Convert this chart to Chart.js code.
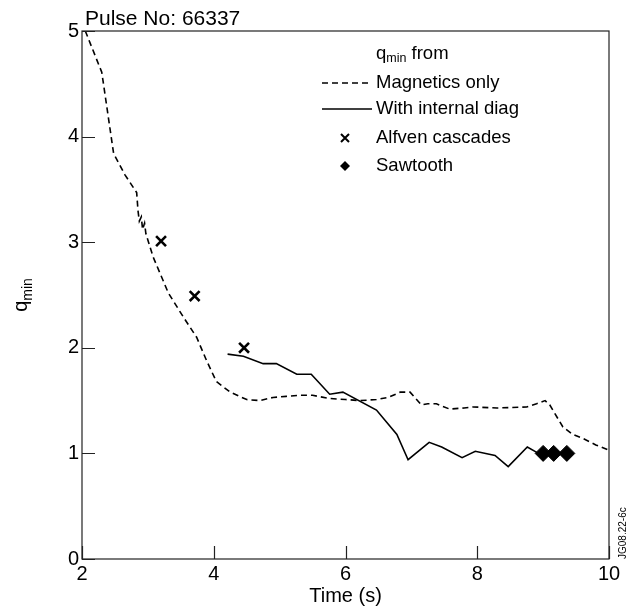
<!DOCTYPE html>
<html>
<head>
<meta charset="utf-8">
<script src="https://cdn.jsdelivr.net/npm/chart.js@4"></script>
<style>
  html, body { margin:0; padding:0; background:#fff; }
  #wrap { width:633px; height:611px; position:relative; }
</style>
</head>
<body>
<div id="wrap"><canvas id="qChart" width="633" height="611"></canvas></div>
<script>
// ---------- DATA ----------
const magT = [2.05, 2.30, 2.48, 2.65, 2.83, 2.85, 2.87, 2.90, 2.92, 2.95, 2.97, 3.08, 3.31, 3.54, 3.74, 3.89, 4.04, 4.25, 4.50, 4.70, 4.90, 5.10, 5.31, 5.50, 5.76, 6.00, 6.22, 6.47, 6.65, 6.83, 6.98, 7.15, 7.25, 7.38, 7.58, 7.80, 7.94, 8.30, 8.75, 8.90, 9.03, 9.10, 9.30, 9.45, 9.61, 9.80, 10.0];
const magQ = [5.00, 4.61, 3.84, 3.64, 3.47, 3.30, 3.20, 3.24, 3.12, 3.18, 3.08, 2.86, 2.52, 2.29, 2.10, 1.88, 1.68, 1.58, 1.51, 1.50, 1.53, 1.54, 1.55, 1.55, 1.52, 1.51, 1.50, 1.51, 1.53, 1.58, 1.58, 1.46, 1.47, 1.47, 1.42, 1.43, 1.44, 1.43, 1.44, 1.47, 1.50, 1.46, 1.25, 1.18, 1.14, 1.08, 1.03];

const diagT = [4.21, 4.45, 4.75, 4.95, 5.26, 5.48, 5.76, 5.96, 6.47, 6.78, 6.95, 7.27, 7.46, 7.77, 7.97, 8.27, 8.47, 8.76, 8.93];
const diagQ = [1.94, 1.92, 1.85, 1.85, 1.75, 1.75, 1.56, 1.58, 1.41, 1.18, 0.94, 1.105, 1.06, 0.96, 1.02, 0.98, 0.875, 1.06, 1.00];

const alfvenT = [3.20, 3.71, 4.46];
const alfvenQ = [3.01, 2.49, 2.00];

const sawT = [9.00, 9.16, 9.36];
const sawQ = [1.00, 1.00, 1.00];

const xTicks = [2, 4, 6, 8, 10];
const yTicks = [0, 1, 2, 3, 4, 5];

const FONT = "'Liberation Sans', Arial, sans-serif";

function pontok(xs, ys){
  return xs.map((x, i) => ({ x: x, y: ys[i] }));
}

// ---------- KERET, BELSŐ TICKEK, FELIRATOK ----------
const rajzPlugin = {
  id: 'rajz',
  afterDraw(chart){
    const ctx = chart.ctx;
    const a = chart.chartArea;
    const xs = chart.scales.x, ys = chart.scales.y;
    ctx.save();
    ctx.strokeStyle = '#222';
    ctx.lineWidth = 1.2;
    ctx.strokeRect(a.left, a.top, a.right - a.left, a.bottom - a.top);
    // befelé mutató tickek
    ctx.beginPath();
    xTicks.forEach(v => {
      const px = Math.round(xs.getPixelForValue(v)) + 0.5;
      ctx.moveTo(px, a.bottom); ctx.lineTo(px, a.bottom - 13);
    });
    yTicks.forEach(v => {
      const py = Math.round(ys.getPixelForValue(v)) + 0.5;
      ctx.moveTo(a.left, py); ctx.lineTo(a.left + 13, py);
    });
    ctx.stroke();

    ctx.fillStyle = '#000';
    // cím
    ctx.font = '21px ' + FONT;
    ctx.textBaseline = 'alphabetic';
    ctx.textAlign = 'left';
    ctx.fillText('Pulse No: 66337', 85, 25);

    // y tengely cím: q_min
    ctx.save();
    ctx.translate(27, (a.top + a.bottom) / 2);
    ctx.rotate(-Math.PI / 2);
    ctx.font = '20px ' + FONT;
    const qW = ctx.measureText('q').width;
    ctx.font = '14px ' + FONT;
    const mW = ctx.measureText('min').width;
    const start = -(qW + mW) / 2;
    ctx.font = '20px ' + FONT;
    ctx.fillText('q', start, 0);
    ctx.font = '14px ' + FONT;
    ctx.fillText('min', start + qW, 5);
    ctx.restore();

    // azonosító függőlegesen
    ctx.save();
    ctx.translate(626, a.bottom);
    ctx.rotate(-Math.PI / 2);
    ctx.font = '10px ' + FONT;
    ctx.fillText('JG08.22-6c', 0, 0);
    ctx.restore();

    // jelmagyarázat
    const lx0 = 322, lx1 = 372, tx = 376;
    const rows = [54, 83, 109, 138, 166];
    ctx.font = '18.5px ' + FONT;
    ctx.textBaseline = 'middle';
    ctx.fillText('q', tx, rows[0]);
    const qw = ctx.measureText('q').width;
    ctx.font = '12.5px ' + FONT;
    ctx.fillText('min', tx + qw, rows[0] + 5);
    const mw = ctx.measureText('min').width;
    ctx.font = '18.5px ' + FONT;
    ctx.fillText(' from', tx + qw + mw, rows[0]);

    ctx.strokeStyle = '#000';
    ctx.lineWidth = 1.5;
    ctx.setLineDash([6, 4]);
    ctx.beginPath(); ctx.moveTo(lx0, rows[1]); ctx.lineTo(lx1, rows[1]); ctx.stroke();
    ctx.setLineDash([]);
    ctx.beginPath(); ctx.moveTo(lx0, rows[2]); ctx.lineTo(lx1, rows[2]); ctx.stroke();
    ctx.fillText('Magnetics only', tx, rows[1]);
    ctx.fillText('With internal diag', tx, rows[2]);

    // × jel
    const cx = 345, r = 4;
    ctx.lineWidth = 2;
    ctx.beginPath();
    ctx.moveTo(cx - r, rows[3] - r); ctx.lineTo(cx + r, rows[3] + r);
    ctx.moveTo(cx - r, rows[3] + r); ctx.lineTo(cx + r, rows[3] - r);
    ctx.stroke();
    ctx.fillText('Alfven cascades', tx, rows[3]);
    // rombusz
    const d = 5;
    ctx.beginPath();
    ctx.moveTo(cx, rows[4] - d); ctx.lineTo(cx + d, rows[4]); ctx.lineTo(cx, rows[4] + d); ctx.lineTo(cx - d, rows[4]);
    ctx.closePath(); ctx.fill();
    ctx.fillText('Sawtooth', tx, rows[4]);
    ctx.restore();
  }
};

new Chart(document.getElementById('qChart').getContext('2d'), {
  type: 'scatter',
  data: {
    datasets: [
      { label: 'Magnetics only', data: pontok(magT, magQ), showLine: true, borderColor: '#000', borderWidth: 1.6, borderDash: [6, 4], pointRadius: 0, tension: 0 },
      { label: 'With internal diag', data: pontok(diagT, diagQ), showLine: true, borderColor: '#000', borderWidth: 1.6, pointRadius: 0, tension: 0 },
      { label: 'Alfven cascades', data: pontok(alfvenT, alfvenQ), showLine: false, pointStyle: 'crossRot', pointRadius: 7, borderColor: '#000', borderWidth: 2.6 },
      { label: 'Sawtooth', data: pontok(sawT, sawQ), showLine: false, pointStyle: 'rectRot', pointRadius: 8, backgroundColor: '#000', borderColor: '#000', borderWidth: 1 }
    ]
  },
  options: {
    responsive: false,
    animation: false,
    layout: { padding: { top: 31, right: 24, left: 0, bottom: 0 } },
    plugins: { legend: { display: false }, tooltip: { enabled: false } },
    scales: {
      x: {
        type: 'linear', min: 2, max: 10,
        afterBuildTicks: (s) => { s.ticks = xTicks.map(v => ({ value: v })); },
        afterFit: (s) => { s.height = 52; },
        grid: { display: false, drawTicks: false },
        border: { display: false },
        ticks: { color: '#000', font: { family: FONT, size: 20 }, padding: 3, maxRotation: 0 },
        title: { display: true, text: 'Time (s)', color: '#000', font: { family: FONT, size: 20 }, padding: { top: 0, bottom: 3 } }
      },
      y: {
        type: 'linear', min: 0, max: 5,
        afterBuildTicks: (s) => { s.ticks = yTicks.map(v => ({ value: v })); },
        afterFit: (s) => { s.width = 82; },
        grid: { display: false, drawTicks: false },
        border: { display: false },
        ticks: { color: '#000', font: { family: FONT, size: 20 }, padding: 3 }
      }
    }
  },
  plugins: [rajzPlugin]
});
</script>
</body>
</html>
